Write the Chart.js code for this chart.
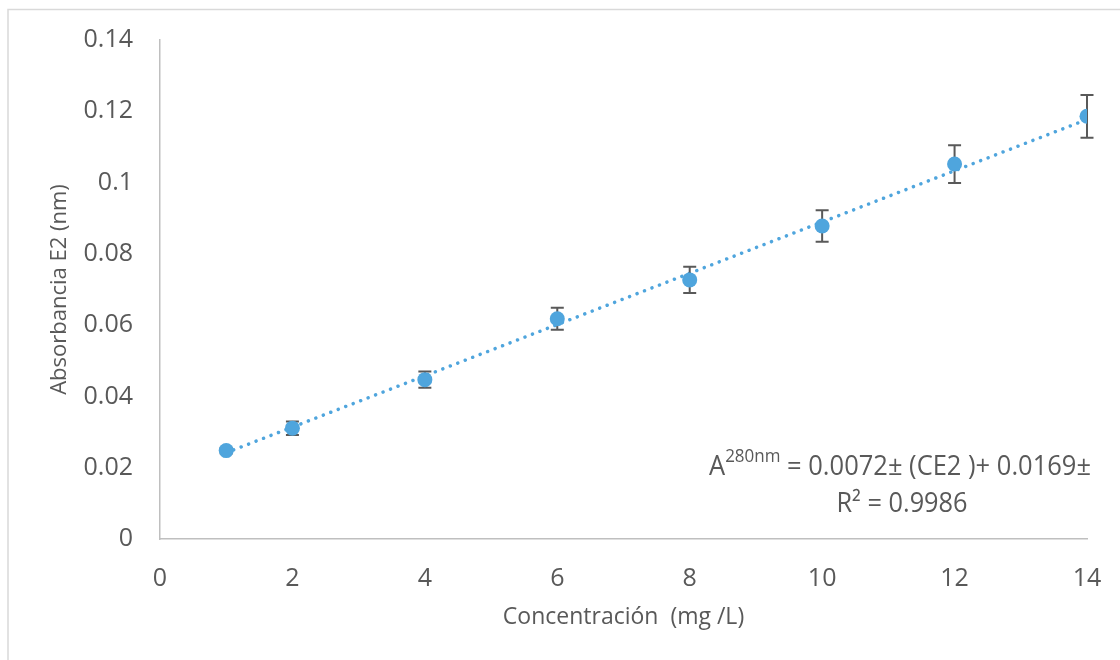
<!DOCTYPE html>
<html><head><meta charset="utf-8">
<script src="https://cdn.jsdelivr.net/npm/chart.js@4.4.1/dist/chart.umd.min.js"></script>
<style>html,body{margin:0;padding:0;background:#fff;} canvas{display:block;}</style>
</head><body>
<canvas id="c" width="1120" height="660"></canvas>
<script>
// ---- data ----
const concentration = [1, 2, 4, 6, 8, 10, 12, 14];
const absorbance = [0.0248, 0.0311, 0.0447, 0.0618, 0.0727, 0.0878, 0.1052, 0.1186];
const absorbanceError = [0.0008, 0.0019, 0.0023, 0.0031, 0.0037, 0.0044, 0.0053, 0.0060];
const trendX = [1, 14];
const trendY = [0.0242, 0.1177];
const xTickValues = [0, 2, 4, 6, 8, 10, 12, 14];
const yTickValues = [0, 0.02, 0.04, 0.06, 0.08, 0.1, 0.12, 0.14];
const xTitle = 'Concentración  (mg /L)';
const yTitle = 'Absorbancia E2 (nm)';
const eqBase = 'A';
const eqSup = '280nm';
const eqRest = ' = 0.0072± (CE2 )+ 0.0169±';
const eqR2 = 'R² = 0.9986';

const BLUE = '#4FA5DD';
const TEXT = '#595959';
const FONT = "'Open Sans', sans-serif";

const frame = {
  id: 'frame',
  beforeDraw(chart) {
    const ctx = chart.ctx;
    ctx.save();
    ctx.strokeStyle = '#d9d9d9';
    ctx.lineWidth = 1.5;
    ctx.beginPath();
    ctx.moveTo(8, 662);
    ctx.lineTo(8, 9.5);
    ctx.lineTo(1122, 9.5);
    ctx.stroke();
    ctx.restore();
  }
};

const errorBars = {
  id: 'errorBars',
  beforeDatasetDraw(chart, args) {
    if (args.index !== 0) return;
    const ctx = chart.ctx, xs = chart.scales.x, ys = chart.scales.y;
    ctx.save();
    ctx.strokeStyle = '#595959';
    ctx.lineWidth = 2;
    concentration.forEach((c, i) => {
      const x = xs.getPixelForValue(c);
      const yt = ys.getPixelForValue(absorbance[i] + absorbanceError[i]);
      const yb = ys.getPixelForValue(absorbance[i] - absorbanceError[i]);
      ctx.beginPath();
      ctx.moveTo(x, yt); ctx.lineTo(x, yb);
      ctx.moveTo(x - 6.5, yt); ctx.lineTo(x + 6.5, yt);
      ctx.moveTo(x - 6.5, yb); ctx.lineTo(x + 6.5, yb);
      ctx.stroke();
    });
    ctx.restore();
  }
};

const equation = {
  id: 'equation',
  afterDraw(chart) {
    const ctx = chart.ctx;
    ctx.save();
    ctx.fillStyle = TEXT;
    ctx.textBaseline = 'alphabetic';
    const mainFont = '27px ' + FONT, supFont = '18px ' + FONT;
    ctx.font = mainFont;
    const wA = ctx.measureText(eqBase).width;
    const wRest = ctx.measureText(eqRest).width;
    ctx.font = supFont;
    const wSup = ctx.measureText(eqSup).width;
    const natural = wA + wSup + wRest;
    const target = 382, cx = 900;
    const sx = target / natural;
    ctx.save();
    ctx.translate(cx - target / 2, 475);
    ctx.scale(sx, 1);
    ctx.textAlign = 'left';
    ctx.font = mainFont;
    ctx.fillText(eqBase, 0, 0);
    ctx.font = supFont;
    ctx.fillText(eqSup, wA, -13);
    ctx.font = mainFont;
    ctx.fillText(eqRest, wA + wSup, 0);
    ctx.restore();
    ctx.font = mainFont;
    const w2 = ctx.measureText(eqR2).width;
    const sx2 = 131 / w2;
    ctx.save();
    ctx.translate(902, 512);
    ctx.scale(sx2, 1);
    ctx.textAlign = 'center';
    ctx.fillText(eqR2, 0, 0);
    ctx.restore();
    ctx.restore();
  }
};

new Chart(document.getElementById('c'), {
  type: 'scatter',
  data: {
    datasets: [
      {
        label: 'E2',
        data: concentration.map((c, i) => ({ x: c, y: absorbance[i] })),
        backgroundColor: BLUE,
        borderColor: BLUE,
        borderWidth: 0,
        pointRadius: 7.5,
        pointHoverRadius: 7.5,
        order: 0
      },
      {
        label: 'Lineal',
        type: 'line',
        data: trendX.map((x, i) => ({ x: x, y: trendY[i] })),
        borderColor: BLUE,
        borderWidth: 3.5,
        borderDash: [0.01, 8],
        borderCapStyle: 'round',
        pointRadius: 0,
        fill: false,
        showLine: true,
        order: 1
      }
    ]
  },
  plugins: [frame, errorBars, equation],
  options: {
    responsive: false,
    animation: false,
    events: [],
    layout: { padding: { top: 40, right: 33, left: 0, bottom: 0 } },
    plugins: { legend: { display: false }, tooltip: { enabled: false } },
    scales: {
      x: {
        type: 'linear', min: 0, max: 14,
        afterBuildTicks: s => { s.ticks = xTickValues.map(v => ({ value: v })); },
        afterFit: s => { s.height = 121; s.paddingLeft = 0; s.paddingRight = 0; },
        grid: { drawOnChartArea: false, drawTicks: false },
        border: { color: '#bfbfbf', width: 1.5 },
        ticks: { color: TEXT, font: { family: FONT, size: 25 }, padding: 25, maxRotation: 0 },
        title: { display: true, text: xTitle, color: TEXT, font: { family: FONT, size: 23 }, padding: { top: 0, bottom: 29 } }
      },
      y: {
        type: 'linear', min: 0, max: 0.14,
        afterBuildTicks: s => { s.ticks = yTickValues.map(v => ({ value: v })); },
        afterFit: s => { s.width = 160; s.paddingTop = 0; s.paddingBottom = 0; },
        grid: { drawOnChartArea: false, drawTicks: false },
        border: { color: '#bfbfbf', width: 1.5 },
        ticks: { color: TEXT, font: { family: FONT, size: 25 }, padding: 27,
          callback: v => String(Number(v.toFixed(2))) },
        title: { display: true, text: yTitle, color: TEXT, font: { family: FONT, size: 22 }, padding: { top: 47, bottom: 0 } }
      }
    }
  }
});
</script>
</body></html>
